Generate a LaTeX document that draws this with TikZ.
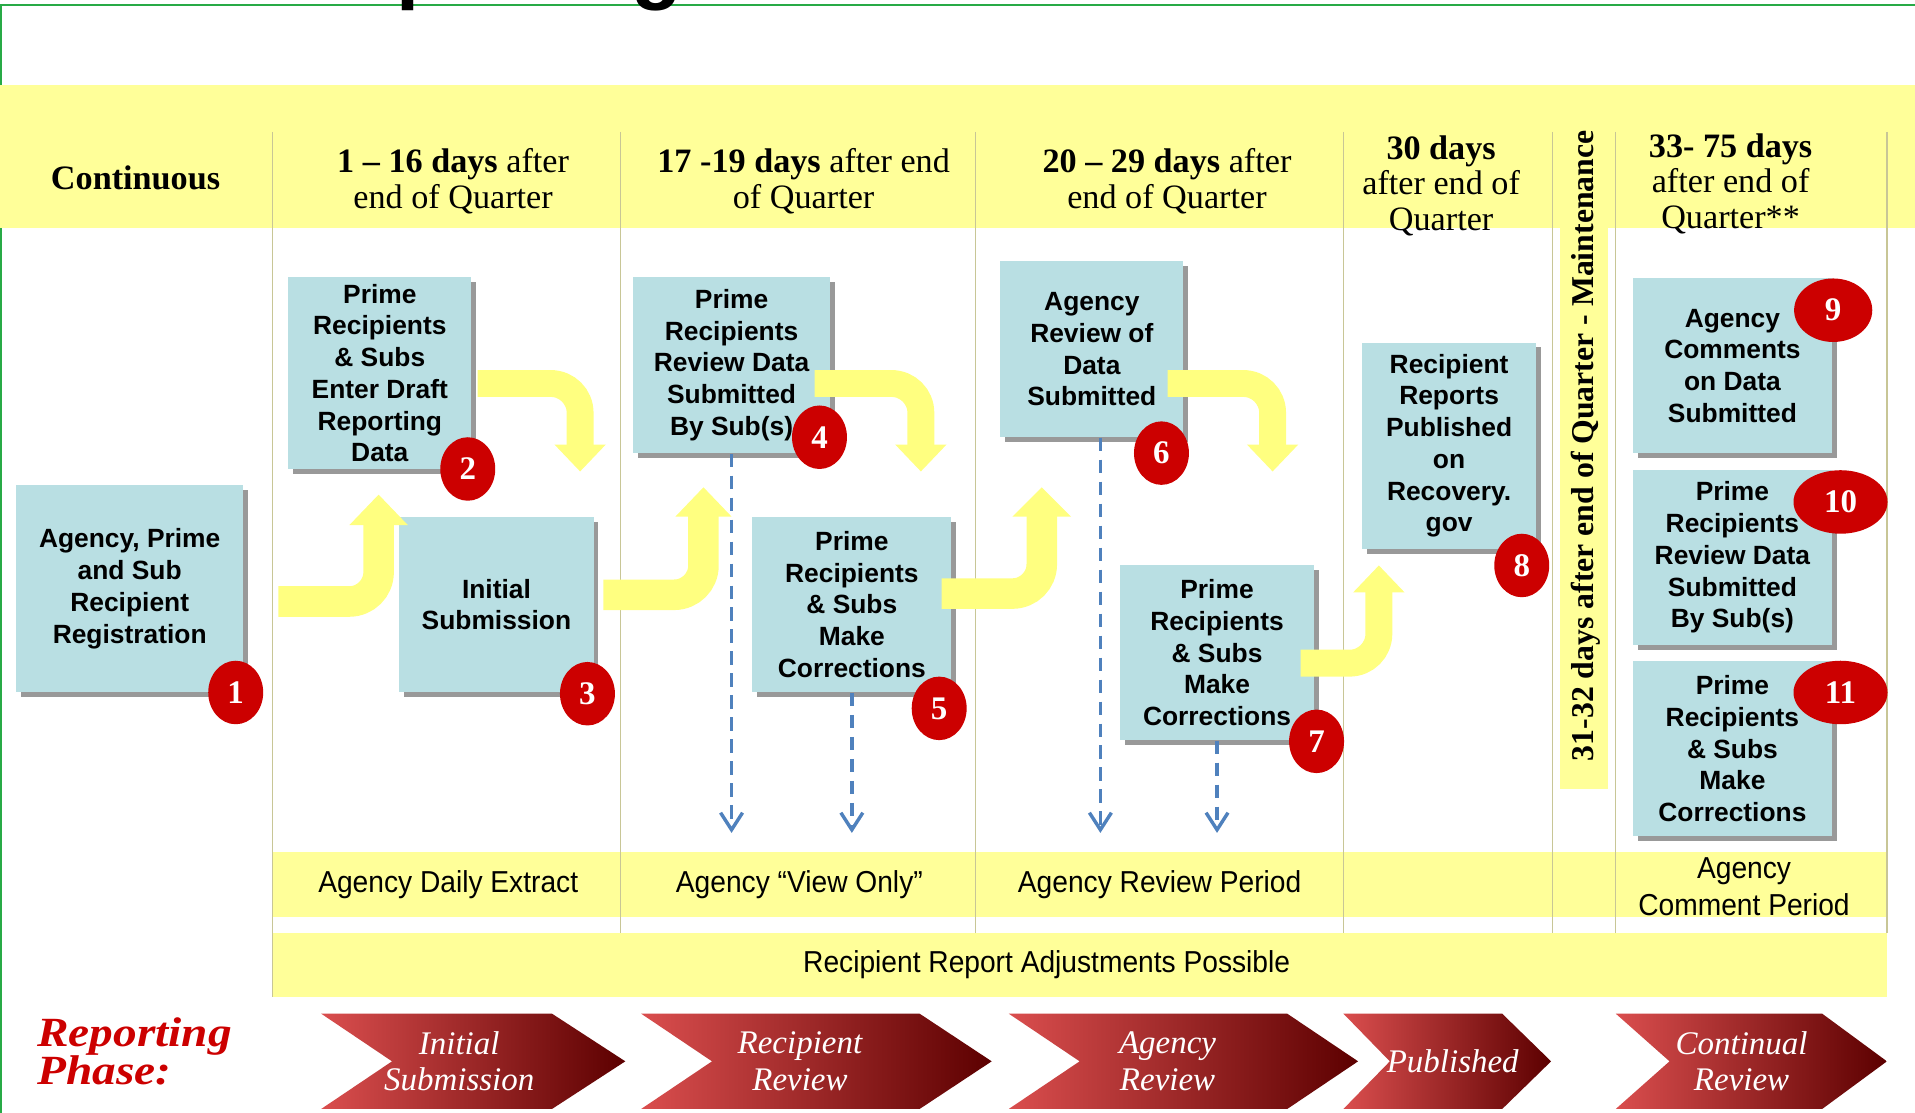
\documentclass[tikz,border=0pt]{standalone}
\usepackage{fontspec}
\setmainfont{Liberation Serif}
\newfontfamily\boxsans{Liberation Sans}
\newfontfamily\narrowsans{Liberation Sans}[FakeStretch=0.93]
\newfontfamily\wideserif{Liberation Serif}[FakeStretch=1.14]
\usetikzlibrary{shapes.geometric,arrows.meta,shadows}
\definecolor{hdryellow}{RGB}{255,255,153}
\definecolor{arrowyellow}{RGB}{255,255,128}
\definecolor{boxblue}{RGB}{185,223,227}
\definecolor{shadowgray}{RGB}{153,153,153}
\definecolor{divider}{RGB}{200,198,150}
\definecolor{badgered}{RGB}{204,0,0}
\definecolor{dashblue}{RGB}{79,129,189}
\definecolor{framegreen}{RGB}{40,170,70}
\definecolor{chevlight}{RGB}{218,78,78}
\definecolor{chevdark}{RGB}{92,0,0}
\definecolor{phasered}{RGB}{204,0,0}
\begin{document}
\begin{tikzpicture}[x=0.5pt,y=-0.5pt,
  bluebox/.style={fill=boxblue, inner sep=0pt, align=center,
    font=\boxsans\bfseries\fontsize{10.8}{13}\selectfont,
    drop shadow={shadow xshift=2pt, shadow yshift=-2pt, fill=shadowgray, opacity=1}},
  badge/.style={ellipse, fill=badgered, inner sep=0pt, minimum width=22.5pt,
    minimum height=26pt, text=white, font=\bfseries\fontsize{13.5}{13.5}\selectfont},
  yband/.style={draw=arrowyellow, line width=#1, rounded corners=12pt},
  yhead/.style={fill=arrowyellow},
  dasharrow/.style={draw=dashblue, line width=1.4pt, dash pattern=on 5.5pt off 3.5pt,
    -{Straight Barb[width=9pt,length=7pt]}},
  hdr/.style={align=center, inner sep=0pt, font=\fontsize{14}{14.5}\selectfont},
  lowtxt/.style={align=center, inner sep=0pt, font=\narrowsans\fontsize{12.4}{15}\selectfont},
  chevtxt/.style={align=center, inner sep=0pt, text=white, font=\itshape\fontsize{13.5}{15}\selectfont},
  chevshade/.style={left color=chevlight, right color=chevdark},
  divline/.style={draw=divider, line width=0.5pt}]
\useasboundingbox (0,0) rectangle (1568,911);
\fill[white] (0,0) rectangle (1568,911);
% frame lines
\draw[framegreen, line width=0.9pt] (0,4) -- (1568,4);
\draw[framegreen, line width=0.9pt] (1,4) -- (1,911);
% cut-off title (only its descenders show)
\begin{scope}
\clip (0,0) rectangle (1568,911);
\node[anchor=base west, inner sep=0pt, font=\boxsans\bfseries\fontsize{34}{34}\selectfont] (title) at (237,-5) {Reporting};
\end{scope}
% yellow bands
\fill[hdryellow] (0,70) rectangle (1568,187);
\fill[hdryellow] (1277,70) rectangle (1317,646);
\fill[hdryellow] (223,698) rectangle (1545,751);
\fill[hdryellow] (223,764) rectangle (1545,816);
% dividers
\foreach \x in {508,799,1100,1271,1323,1545} \draw[divline] (\x,108) -- (\x,764);
\draw[divline] (223,108) -- (223,816);
% header texts
\node[hdr, font=\bfseries\fontsize{14}{14.5}\selectfont] (h0) at (111,146) {Continuous};
\node[hdr] (h1) at (371,148.5) {\textbf{1 – 16 days} after\\end of Quarter};
\node[hdr] (h2) at (658,148.5) {\textbf{17 -19 days} after end\\of Quarter};
\node[hdr] (h3) at (955.5,148.5) {\textbf{20 – 29 days} after\\end of Quarter};
\node[hdr] (h4) at (1180,152) {\textbf{30 days}\\after end of\\Quarter};
\node[hdr] (h5) at (1417,150.5) {\textbf{33- 75 days}\\after end of\\Quarter**};
\node[rotate=90, inner sep=0pt, font=\bfseries\fontsize{13}{13}\selectfont] (maint) at (1298,365) {31-32 days after end of Quarter - Maintenance};
% boxes
\node[bluebox, minimum width=92.8pt, minimum height=85pt] (b1) at (106.2,482) {Agency, Prime\\and Sub\\Recipient\\Registration};
\node[bluebox, minimum width=75pt, minimum height=78.5pt] (b2) at (311,305.5) {Prime\\Recipients\\\& Subs\\Enter Draft\\Reporting\\Data};
\node[bluebox, minimum width=79.5pt, minimum height=72pt] (b3) at (406.5,495) {Initial\\Submission};
\node[bluebox, minimum width=81pt, minimum height=72pt] (b4) at (599,299) {Prime\\Recipients\\Review Data\\Submitted\\By Sub(s)};
\node[bluebox, minimum width=81.5pt, minimum height=72pt] (b5) at (697.5,495) {Prime\\Recipients\\\& Subs\\Make\\Corrections};
\node[bluebox, minimum width=75pt, minimum height=72pt] (b6) at (894,286) {Agency\\Review of\\Data\\Submitted};
\node[bluebox, minimum width=79.5pt, minimum height=71.5pt] (b7) at (996.5,534.5) {Prime\\Recipients\\\& Subs\\Make\\Corrections};
\node[bluebox, minimum width=71pt, minimum height=84.5pt] (b8) at (1186.5,365) {Recipient\\Reports\\Published\\on\\Recovery.\\gov};
\node[bluebox, minimum width=81.5pt, minimum height=71.5pt] (b9) at (1418.5,299.5) {Agency\\Comments\\on Data\\Submitted};
\node[bluebox, minimum width=81.5pt, minimum height=71.5pt] (b10) at (1418.5,456.5) {Prime\\Recipients\\Review Data\\Submitted\\By Sub(s)};
\node[bluebox, minimum width=81.5pt, minimum height=71.5pt] (b11) at (1418.5,613) {Prime\\Recipients\\\& Subs\\Make\\Corrections};
% dashed arrows
\coordinate (e1) at (599,682);
\coordinate (e2) at (697.5,682);
\coordinate (e3) at (901,682);
\coordinate (e4) at (996.5,682);
\draw[dasharrow] (b4.south) -- (e1);
\draw[dasharrow] (b5.south) -- (e2);
\draw[dasharrow] ([xshift=3.5pt]b6.south) -- (e3);
\draw[dasharrow] (b7.south) -- (e4);
% yellow arrows
\draw[yband=12.5pt] (228,492.5) -- (310,492.5) -- (310,428);
\fill[yhead] (286,430) -- (334,430) -- (310,405) -- cycle;
\draw[yband=11pt] (391,314) -- (475,314) -- (475,366);
\fill[yhead] (454,364) -- (496,364) -- (475,386) -- cycle;
\draw[yband=12.5pt] (494,487) -- (576,487) -- (576,421);
\fill[yhead] (553,423) -- (599,423) -- (576,399) -- cycle;
\draw[yband=11pt] (667,314) -- (754,314) -- (754,366);
\fill[yhead] (733,364) -- (775,364) -- (754,386) -- cycle;
\draw[yband=12.5pt] (771,486) -- (853,486) -- (853,421);
\fill[yhead] (829,423) -- (877,423) -- (853,399) -- cycle;
\draw[yband=11pt] (956,314) -- (1042,314) -- (1042,366);
\fill[yhead] (1021,364) -- (1063,364) -- (1042,386) -- cycle;
\draw[yband=11pt] (1065,543) -- (1129,543) -- (1129,483);
\fill[yhead] (1108,485) -- (1150,485) -- (1129,463) -- cycle;
% badges
\node[badge] (n1) at (193,567) {1};
\node[badge] (n2) at (383,384) {2};
\node[badge] (n3) at (481,568) {3};
\node[badge] (n4) at (671,358) {4};
\node[badge] (n5) at (769,580) {5};
\node[badge] (n6) at (951,371) {6};
\node[badge] (n7) at (1078,607) {7};
\node[badge] (n8) at (1246,463) {8};
\node[badge, minimum width=32pt] (n9) at (1501,254) {9};
\node[badge, minimum width=38.5pt] (n10) at (1507,411) {10};
\node[badge, minimum width=38.5pt] (n11) at (1507,567) {11};
% lower rows
\node[lowtxt] (l1) at (367,724) {Agency Daily Extract};
\node[lowtxt] (l2) at (654.5,724) {Agency “View Only”};
\node[lowtxt] (l3) at (949.5,724) {Agency Review Period};
\node[lowtxt] (l4) at (1428,726) {Agency\\Comment Period};
\node[lowtxt] (l5) at (857,790) {Recipient Report Adjustments Possible};
% reporting phase
\node[anchor=west, align=left, inner sep=0pt, text=phasered,
  font=\wideserif\bfseries\itshape\fontsize{17}{15.5}\selectfont] (rp) at (30,861) {Reporting\\Phase:};
\shade[chevshade] (263,830) -- (452,830) -- (512,869) -- (452,908) -- (263,908) -- (321,869) -- cycle;
\shade[chevshade] (525,830) -- (753,830) -- (812,869) -- (753,908) -- (525,908) -- (583,869) -- cycle;
\shade[chevshade] (826,830) -- (1054,830) -- (1112,869) -- (1054,908) -- (826,908) -- (884,869) -- cycle;
\shade[chevshade] (1100,830) -- (1230,830) -- (1270,869) -- (1230,908) -- (1100,908) -- (1138,869) -- cycle;
\shade[chevshade] (1323,830) -- (1492,830) -- (1545,869) -- (1492,908) -- (1323,908) -- (1367,869) -- cycle;
\node[chevtxt] (c1) at (376,869) {Initial\\Submission};
\node[chevtxt] (c2) at (655,869) {Recipient\\Review};
\node[chevtxt] (c3) at (956,869) {Agency\\Review};
\node[chevtxt] (c4) at (1189.5,869) {Published};
\node[chevtxt] (c5) at (1426,869) {Continual\\Review};
\end{tikzpicture}
\end{document}
